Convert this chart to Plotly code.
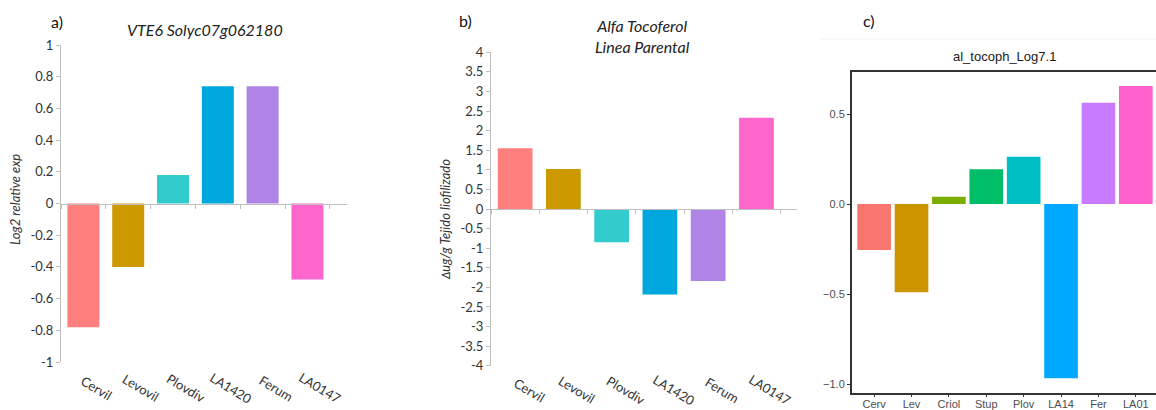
import plotly.graph_objects as go

W, H = 1156, 410

# ---------------- data ----------------
cats_a = ["Cervil", "Levovil", "Plovdiv", "LA1420", "Ferum", "LA0147"]
vals_a = [-0.78, -0.40, 0.18, 0.74, 0.74, -0.48]
cols_ab = ["#FF7F7F", "#CC9900", "#33CCCC", "#00A6DE", "#B083E6", "#FF66CC"]

cats_b = ["Cervil", "Levovil", "Plovdiv", "LA1420", "Ferum", "LA0147"]
vals_b = [1.55, 1.02, -0.85, -2.18, -1.84, 2.33]

cats_c = ["Cerv", "Lev", "Criol", "Stup", "Plov", "LA14", "Fer", "LA01"]
vals_c = [-0.255, -0.49, 0.04, 0.193, 0.263, -0.968, 0.563, 0.656]
cols_c = ["#F8766D", "#CD9600", "#7CAE00", "#00BE67", "#00BFC4", "#00A9FF", "#C77CFF", "#FF61CC"]

ticks_a = [1, 0.8, 0.6, 0.4, 0.2, 0, -0.2, -0.4, -0.6, -0.8, -1]
ticktext_a = ["1", "0.8", "0.6", "0.4", "0.2", "0", "-0.2", "-0.4", "-0.6", "-0.8", "-1"]
ticks_b = [4, 3.5, 3, 2.5, 2, 1.5, 1, 0.5, 0, -0.5, -1, -1.5, -2, -2.5, -3, -3.5, -4]
ticktext_b = ["4", "3.5", "3", "2.5", "2", "1.5", "1", "0.5", "0", "-0.5", "-1", "-1.5", "-2", "-2.5", "-3", "-3.5", "-4"]
ticks_c = [0.5, 0.0, -0.5, -1.0]
ticktext_c = ["0.5", "0.0", "\u22120.5", "\u22121.0"]


def px(x):
    return x / W


def py(y):
    return 1 - y / H


XL_FONT = "Lato, Carlito, Open Sans, sans-serif"
GG_FONT = "Liberation Sans, Arial, sans-serif"
XL_AX = "#BFBFBF"
XL_TXT = "#333333"

fig = go.Figure()
fig.add_trace(go.Bar(x=cats_a, y=vals_a, marker=dict(color=cols_ab, line=dict(width=0)),
                     width=0.714, xaxis="x", yaxis="y", showlegend=False))
fig.add_trace(go.Bar(x=cats_b, y=vals_b, marker=dict(color=cols_ab, line=dict(width=0)),
                     width=0.72, xaxis="x2", yaxis="y2", showlegend=False))
fig.add_trace(go.Bar(x=cats_c, y=vals_c, marker=dict(color=cols_c, line=dict(width=0)),
                     width=0.9, xaxis="x3", yaxis="y3", showlegend=False))

# domains
ya_dom = [py(362), py(45)]
yb_dom = [py(365.7), py(52.3)]
yc_dom = [py(392.7), py(71.7)]


def excel_x(domain, ydom):
    return dict(domain=domain, type="category", anchor="free", position=(ydom[0] + ydom[1]) / 2,
                showline=True, linecolor=XL_AX, linewidth=1, ticks="outside", ticklen=4,
                tickcolor=XL_AX, tickson="boundaries", showticklabels=False, showgrid=False,
                zeroline=False, fixedrange=True)


def excel_y(domain, anchor, rng, tv, tt):
    return dict(domain=domain, anchor=anchor, range=rng, showline=True, linecolor=XL_AX, linewidth=1,
                ticks="outside", ticklen=4, tickcolor=XL_AX, tickvals=tv, ticktext=tt,
                tickfont=dict(family=XL_FONT, size=13, color=XL_TXT), showgrid=False,
                zeroline=False, fixedrange=True)


fig.update_layout(
    width=W, height=H, margin=dict(l=0, r=0, t=0, b=0, autoexpand=False),
    paper_bgcolor="white", plot_bgcolor="white",
    xaxis=excel_x([px(61), px(347)], ya_dom),
    yaxis=excel_y(ya_dom, "x", [-1, 1], ticks_a, ticktext_a),
    xaxis2=excel_x([px(491), px(797)], yb_dom),
    yaxis2=excel_y(yb_dom, "x2", [-4, 4], ticks_b, ticktext_b),
    xaxis3=dict(domain=[px(851.7), 1.0], anchor="y3", type="category", range=[-0.6, 7.54],
                showline=True, linecolor="#333333", linewidth=1.5, mirror=True,
                ticks="outside", ticklen=3, tickcolor="#333333", tickwidth=1.2,
                ticklabelstandoff=-3,
                tickfont=dict(family=GG_FONT, size=11, color="#4D4D4D"),
                showgrid=False, zeroline=False, fixedrange=True),
    yaxis3=dict(domain=yc_dom, anchor="x3", range=[-1.048, 0.735],
                showline=True, linecolor="#333333", linewidth=1.5,
                ticks="outside", ticklen=3, tickcolor="#333333", tickwidth=1.2,
                tickvals=ticks_c, ticktext=ticktext_c,
                tickfont=dict(family=GG_FONT, size=11, color="#4D4D4D"),
                showgrid=False, zeroline=False, fixedrange=True),
    showlegend=False,
)


def note(text, x, y, size, color, family=XL_FONT, angle=0, xref="paper", xshift=0):
    return dict(text=text, x=x, y=y, xref=xref, yref="paper", xshift=xshift, showarrow=False,
                textangle=angle, xanchor="center", yanchor="middle",
                font=dict(family=family, size=size, color=color))


ann = []
# rotated category labels for Excel panels
for c in cats_a:
    ann.append(note(c, c, py(388), 13, XL_TXT, angle=31, xref="x", xshift=13))
for c in cats_b:
    ann.append(note(c, c, py(390), 13, XL_TXT, angle=31, xref="x2", xshift=14))

# axis titles
ann.append(note("<i>Log2 relative exp</i>", px(15), py(200), 13, XL_TXT, angle=-90))
ann.append(note("<i>\u2206ug/g Tejido liofilizado</i>", px(445), py(220), 13, XL_TXT, angle=-90))

# titles and panel letters
ann.append(note("a)", px(57), py(21), 16, "#111111"))
ann.append(note("<i>VTE6 Solyc07g062180</i>", px(205), py(30), 16, "#222222"))
ann.append(note("b)", px(465), py(20), 16, "#111111"))
ann.append(note("<i>Alfa Tocoferol</i><br><i>Linea Parental</i>", px(642), py(36), 16, "#222222"))
ann.append(note("c)", px(869), py(20), 16, "#111111"))
ann.append(note("al_tocoph_Log7.1", px(1004), py(56), 13, "#1A1A1A", family=GG_FONT))

fig.update_layout(annotations=ann)

# faint image border above panel c
fig.add_shape(type="line", xref="paper", yref="paper", x0=px(820), x1=1.0, y0=py(39), y1=py(39),
              line=dict(color="#F0F0F0", width=1))

fig.write_html("out.html")
